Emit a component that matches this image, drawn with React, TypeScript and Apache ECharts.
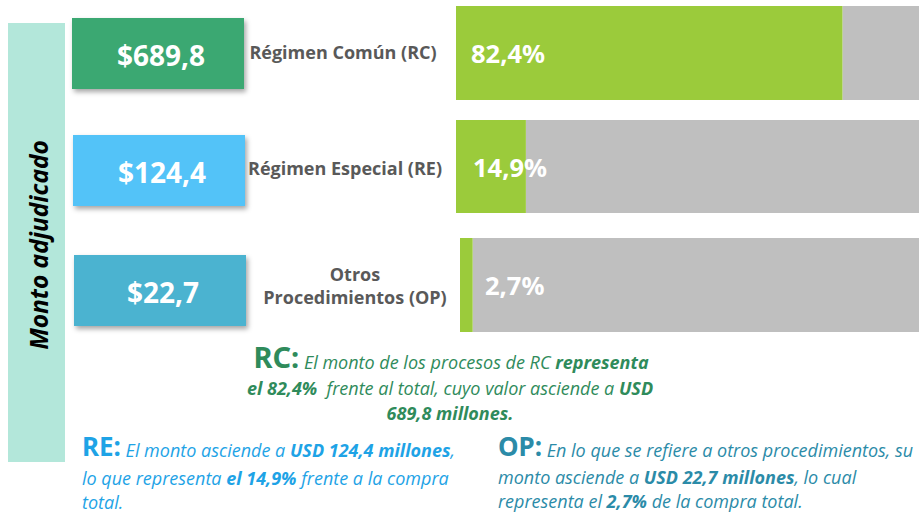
import React, { useEffect, useRef } from 'react';
import * as echarts from 'echarts';

const categories = ['Régimen Común (RC)', 'Régimen Especial (RE)', 'Otros\nProcedimientos (OP)'];
const amounts = [689.8, 124.4, 22.7];
const shares = [82.4, 14.9, 2.7];
const totalShare = 100;
const axisTitle = 'Monto adjudicado';

const fmt = (v: number) => v.toFixed(1).replace('.', ',');

const SANS = '"Noto Sans", "DejaVu Sans", sans-serif';
const NOTE = '"Open Sans", "Noto Sans", sans-serif';

const boxColors = ['#3aa872', '#52c3f8', '#4bb3d0'];
const boxes = [
  { x: 72, y: 18, w: 172, h: 71 },
  { x: 73, y: 135, w: 172, h: 71 },
  { x: 74, y: 255, w: 172, h: 71 },
];
const catPos = [
  { x: 343, y: 52 },
  { x: 345, y: 168 },
  { x: 355, y: 285 },
];
const rows = [
  { left: 456, top: 6, height: 94, dist: 15 },
  { left: 456, top: 120, height: 93, dist: 17 },
  { left: 460, top: 238, height: 94, dist: 25 },
];

export default function App() {
  const ref = useRef<HTMLDivElement>(null);
  useEffect(() => {
    if (!ref.current) return;
    const chart = echarts.init(ref.current, undefined, { renderer: 'svg' });

    const grids = rows.map((r) => ({
      left: r.left,
      top: r.top,
      height: r.height,
      width: 469,
      outerBoundsMode: 'none',
      containLabel: false,
    }));
    const xAxes = rows.map((_, i) => ({ type: 'value', gridIndex: i, min: 0, max: totalShare, show: false }));
    const yAxes = rows.map((_, i) => ({ type: 'category', gridIndex: i, data: [categories[i]], show: false }));
    const series: any[] = [];
    rows.forEach((r, i) => {
      series.push({
        type: 'bar',
        xAxisIndex: i,
        yAxisIndex: i,
        stack: 's' + i,
        barWidth: '100%',
        z: 3,
        data: [shares[i]],
        itemStyle: { color: '#9bcb3b' },
        label: {
          show: true,
          position: 'insideLeft',
          distance: r.dist,
          formatter: () => fmt(shares[i]) + '%',
          color: '#ffffff',
          fontSize: 25.5,
          fontWeight: 'bold',
          fontFamily: SANS,
        },
      });
      series.push({
        type: 'bar',
        xAxisIndex: i,
        yAxisIndex: i,
        stack: 's' + i,
        barWidth: '100%',
        z: 2,
        data: [totalShare - shares[i]],
        itemStyle: { color: '#bfbfbf' },
      });
    });

    const graphic: any[] = [];
    graphic.push({
      type: 'rect',
      shape: { x: 8, y: 23, width: 57, height: 439 },
      style: { fill: '#b3e7da' },
      z: 1,
    });
    graphic.push({
      type: 'text',
      x: 38,
      y: 245,
      rotation: Math.PI / 2,
      style: {
        text: axisTitle,
        fill: '#000000',
        font: 'italic bold 24.5px ' + NOTE,
        textAlign: 'center',
        textVerticalAlign: 'middle',
      },
      z: 5,
    });
    boxes.forEach((b, i) => {
      graphic.push({
        type: 'rect',
        shape: { x: b.x, y: b.y, width: b.w, height: b.h },
        style: {
          fill: boxColors[i],
          shadowBlur: 5,
          shadowOffsetX: 2,
          shadowOffsetY: 3,
          shadowColor: 'rgba(0,0,0,0.35)',
        },
        z: 5,
      });
      graphic.push({
        type: 'text',
        x: b.x + b.w / 2 + 3,
        y: b.y + b.h / 2 + 1,
        style: {
          text: '$' + fmt(amounts[i]),
          fill: '#ffffff',
          font: 'bold 28px ' + SANS,
          textAlign: 'center',
          textVerticalAlign: 'middle',
        },
        z: 6,
      });
      graphic.push({
        type: 'text',
        x: catPos[i].x,
        y: catPos[i].y,
        style: {
          text: categories[i],
          fill: '#595959',
          font: 'bold 18px ' + NOTE,
          textAlign: 'center',
          textVerticalAlign: 'middle',
          lineHeight: 23,
        },
        z: 6,
      });
    });

    const noteLine = (x: number, y: number, align: string, color: string, text: string, big = 26) => ({
      type: 'text',
      x,
      y,
      style: {
        text,
        textAlign: align,
        textVerticalAlign: 'middle',
        rich: {
          h: { fontFamily: SANS, fontWeight: 'bold', fontSize: big, fill: color, lineHeight: 26, verticalAlign: 'bottom' },
          i: { fontFamily: NOTE, fontStyle: 'italic', fontSize: 18, fill: color, lineHeight: 22, verticalAlign: 'bottom' },
          b: { fontFamily: NOTE, fontStyle: 'italic', fontWeight: 'bold', fontSize: 18, fill: color, lineHeight: 22, verticalAlign: 'bottom' },
        },
      },
      z: 6,
    });

    const rc = '#2f8b5b';
    graphic.push(noteLine(451, 358, 'center', rc, '{h|RC:}{i| El monto de los procesos de RC }{b|representa}', 29));
    graphic.push(noteLine(450, 386, 'center', rc, '{b|el ' + fmt(shares[0]) + '%}{i|  frente al total, cuyo valor asciende a }{b|USD}'));
    graphic.push(noteLine(450, 411, 'center', rc, '{b|' + fmt(amounts[0]) + ' millones.}'));

    const re = '#1ea3e6';
    graphic.push(noteLine(82, 446, 'left', re, '{h|RE:}{i| El monto asciende a }{b|USD ' + fmt(amounts[1]) + ' millones}{i|,}'));
    graphic.push(noteLine(82, 476, 'left', re, '{i|lo que representa }{b|el ' + fmt(shares[1]) + '%}{i| frente a la compra}'));
    graphic.push(noteLine(82, 500, 'left', re, '{i|total.}'));

    const op = '#2b8ba8';
    graphic.push(noteLine(498, 446, 'left', op, '{h|OP:}{i| En lo que se refiere a otros procedimientos, su}'));
    graphic.push(noteLine(498, 475, 'left', op, '{i|monto asciende a }{b|USD ' + fmt(amounts[2]) + ' millones}{i|, lo cual}'));
    graphic.push(noteLine(498, 499, 'left', op, '{i|representa el }{b|' + fmt(shares[2]) + '%}{i| de la compra total.}'));

    chart.setOption({
      animation: false,
      backgroundColor: '#ffffff',
      grid: grids,
      xAxis: xAxes,
      yAxis: yAxes,
      series,
      graphic,
    });
    return () => chart.dispose();
  }, []);
  return <div ref={ref} style={{ width: 919, height: 513, position: 'absolute', left: 0, top: 0 }} />;
}
